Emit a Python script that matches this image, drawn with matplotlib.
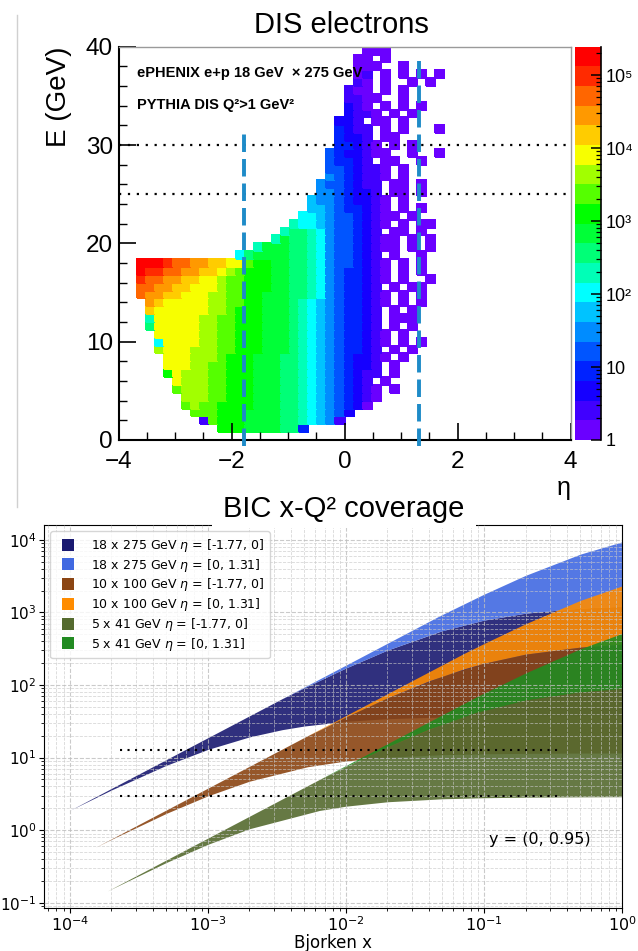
import colorsys
import numpy as np
import matplotlib
matplotlib.use("Agg")
import matplotlib.pyplot as plt
from matplotlib.colors import ListedColormap, LogNorm
from matplotlib.lines import Line2D
from matplotlib.patches import Rectangle
from matplotlib.ticker import MultipleLocator

# ======================= TOP PANEL DATA (DIS electrons) =======================
ETA_RANGE = (-4.0, 4.0)
E_RANGE = (0.0, 40.0)
N_ETA_BINS = 50
N_E_BINS = 50
LEVEL_CODES = "0123456789abcdefghij"      # colour level read from each cell
N_LEVELS = 20
LOG_COUNT_MAX = 5.39                      # top of the colour scale (log10)
# (E-bin row, first eta-bin column, colour levels of the cells; '.' = empty)
HIST_ROWS = [
    (1, 11, "bbbaaaa993"),
    (2, 9, "1cbbbaaaa9987651"),
    (3, 8, "cccbbbaaaa99876542"),
    (4, 7, "cdccbbbbaaa9987654320"),
    (5, 7, "dddccbbbaaa99876543210"),
    (6, 6, "cdddccbbbaaa99876543210.0"),
    (7, 6, "edddccbbbaaa9987654321.0"),
    (8, 5, "bedddccbbbaaa99876543211.0"),
    (9, 5, "eeeddccbbbaaa99876543221.0"),
    (10, 5, "eeedddcbbbaaa998765432210.0"),
    (11, 4, "deeedddccbbbaaa9876543321.0.0"),
    (12, 4, "7eeeeddccbbbaaa98765433210.0.0"),
    (13, 4, "eeeeeddccbbbaaa98765433210.0"),
    (14, 3, "9eeeeeddccbbbaaa9876543321.0.0"),
    (15, 3, "8eeeeeddccbbbaaa9876543321.000"),
    (16, 3, "feeeeeeddcbbbaaa9876543321.0.0"),
    (17, 3, "gfeeeeeddccbbaaa98765433210.0.0"),
    (18, 2, "hggffeeeddccbbaaa99875433210.0.0"),
    (19, 2, "hhggffeeedccbbbaa9987543321.0.00"),
    (20, 2, "ihhggffeedccbbbaa99875433210.0..0"),
    (21, 2, "jiihhggffedcbbbaa99875433210.0.0"),
    (22, 2, "jjjihhggffeecbbaa99875443210.0.0"),
    (23, 13, "79aaaa9987544321.0..0"),
    (24, 15, "8aaa998754432100.0.0"),
    (25, 17, "8a998754432100.0.0"),
    (26, 18, "89987544321.00.0"),
    (27, 19, "87765443210.0.00"),
    (28, 20, "77654432100.0"),
    (29, 21, "665433210.0.0"),
    (30, 21, "655432210.0"),
    (31, 22, "5543221.00.0"),
    (32, 22, "5443211.00.0"),
    (33, 23, "5432110.0"),
    (34, 23, "4432110.0"),
    (35, 23, "43321.00..0"),
    (36, 23, "4322100..0..0"),
    (37, 24, "33210.0.0"),
    (38, 24, "3221.00"),
    (39, 24, "3211.0.0...0"),
    (40, 24, "221.00.0"),
    (41, 25, "2110.0.0"),
    (42, 25, "210.0.0.0"),
    (43, 25, "1100..0"),
    (44, 25, "100.0.0"),
    (45, 26, "10.0..0.0"),
    (46, 26, "01.0.0.0.0"),
    (47, 26, "000..0"),
    (48, 26, "00.0"),
    (49, 27, "000"),
]
E_CUT_LINES = [25.0, 30.0]
ETA_CUT_LINES = [-1.77, 1.31]
ETA_CUT_E_TOP = [31.5, 38.6]
ETA_CUT_E_BOTTOM = -0.6
CBAR_TICKS = [1, 10, 1e2, 1e3, 1e4, 1e5]
CBAR_TICKLABELS = ["1", "10", "10²", "10³", "10⁴", "10⁵"]

# ======================= BOTTOM PANEL DATA (x-Q2 coverage) ====================
band_labels = [
    r"18 x 275 GeV $\eta$ = [-1.77, 0]",
    r"18 x 275 GeV $\eta$ = [0, 1.31]",
    r"10 x 100 GeV $\eta$ = [-1.77, 0]",
    r"10 x 100 GeV $\eta$ = [0, 1.31]",
    r"5 x 41 GeV $\eta$ = [-1.77, 0]",
    r"5 x 41 GeV $\eta$ = [0, 1.31]",
]
band_colors = ["midnightblue", "royalblue", "saddlebrown",
               "darkorange", "darkolivegreen", "forestgreen"]

x_18_back = [1.0e-4, 2e-4, 5e-4, 1e-3, 2e-3, 3.44e-3, 5e-3, 1e-2, 2e-2, 5e-2, 0.1, 0.2, 0.5, 1.0]
q2lo_18_back = [1.881, 3.583, 7.837, 12.97, 19.29, 24.23, 27.25, 31.60, 34.34, 36.22, 36.90, 37.25, 37.46, 37.53]
q2hi_18_back = [1.881, 3.762, 9.405, 18.81, 37.62, 64.7, 91.97, 171.8, 303.3, 561.3, 783.3, 976.4, 1146, 1216]

x_18_fwd = [3.44e-3, 5e-3, 1e-2, 2e-2, 4.73e-2, 0.1, 0.2, 0.5, 1.0]
q2lo_18_fwd = [64.7, 91.97, 171.8, 303.3, 543.7, 783.3, 976.4, 1146, 1216]
q2hi_18_fwd = [64.7, 94.05, 188.1, 376.2, 889.7, 1781.8, 3239, 6362, 9374]

x_10_back = [1.527e-4, 2e-4, 5e-4, 1e-3, 2e-3, 5.26e-3, 1e-2, 2e-2, 5e-2, 0.1, 0.2, 0.5, 1.0]
q2lo_10_back = [0.5802, 0.7484, 1.706, 2.975, 4.735, 7.479, 8.995, 10.13, 10.97, 11.28, 11.44, 11.54, 11.57]
q2hi_10_back = [0.5802, 0.76, 1.9, 3.8, 7.6, 19.99, 36.36, 66.67, 133.3, 200.0, 266.7, 333.3, 363.6]

x_10_fwd = [5.26e-3, 1e-2, 2e-2, 4e-2, 7.23e-2, 0.1, 0.2, 0.5, 1.0]
q2lo_10_fwd = [19.99, 36.36, 66.67, 114.3, 167.8, 200.0, 266.7, 333.3, 363.6]
q2hi_10_fwd = [19.99, 38.0, 76.0, 152.0, 274.7, 372.9, 698.3, 1466, 2315]

x_5_back = [1.862e-4, 5e-4, 1e-3, 2e-3, 6.42e-3, 1e-2, 2e-2, 5e-2, 0.1, 0.2, 0.5, 1.0]
q2lo_5_back = [0.1450, 0.3592, 0.6393, 1.048, 1.870, 2.143, 2.465, 2.709, 2.801, 2.850, 2.880, 2.890]
q2hi_5_back = [0.1450, 0.3895, 0.779, 1.558, 5.001, 7.579, 14.09, 29.08, 45.05, 62.12, 80.39, 89.13]

x_5_fwd = [6.42e-3, 1e-2, 2e-2, 4e-2, 8.81e-2, 0.2, 0.5, 1.0]
q2lo_5_fwd = [5.001, 7.579, 14.09, 24.70, 41.94, 62.12, 80.39, 89.13]
q2hi_5_fwd = [5.001, 7.79, 15.58, 31.16, 68.63, 146.5, 315.7, 513.5]

bands = [
    (x_18_back, q2lo_18_back, q2hi_18_back),
    (x_18_fwd, q2lo_18_fwd, q2hi_18_fwd),
    (x_10_back, q2lo_10_back, q2hi_10_back),
    (x_10_fwd, q2lo_10_fwd, q2hi_10_fwd),
    (x_5_back, q2lo_5_back, q2hi_5_back),
    (x_5_fwd, q2lo_5_fwd, q2hi_5_fwd),
]
Q2_DOTTED = [12.7, 3.0]
Q2_DOTTED_XRANGE = (2.3e-4, 0.36)
XLIM = (6.5e-5, 1.0)
YLIM = (0.0848, 1.6e4)

# ================================ FIGURE =====================================
W, H, DPI = 638, 951, 100
fig = plt.figure(figsize=(W / DPI, H / DPI), dpi=DPI)
TOP_FONT = ["Liberation Sans", "DejaVu Sans"]


def fx(px):
    return px / W


def fy(py):
    return 1 - py / H


# ---------- top panel ----------
ax1 = fig.add_axes([fx(118.5), fy(440), fx(452), 393.3 / H])
level_hues = [265, 255, 245, 232, 220, 207, 194, 180, 163, 148,
              133, 120, 100, 82, 62, 48, 36, 24, 10, 0]
cmap = ListedColormap([colorsys.hsv_to_rgb(h / 360.0, 1.0, 1.0) for h in level_hues])
norm = LogNorm(vmin=1.0, vmax=10 ** LOG_COUNT_MAX)

counts = np.full((N_E_BINS, N_ETA_BINS), np.nan)
for row, col0, cells in HIST_ROWS:
    for k, ch in enumerate(cells):
        if ch != ".":
            lev = LEVEL_CODES.index(ch)
            counts[row, col0 + k] = 10 ** ((lev + 0.5) * LOG_COUNT_MAX / N_LEVELS)
eta_edges = np.linspace(ETA_RANGE[0], ETA_RANGE[1], N_ETA_BINS + 1)
e_edges = np.linspace(E_RANGE[0], E_RANGE[1], N_E_BINS + 1)
mesh = ax1.pcolormesh(eta_edges, e_edges, np.ma.masked_invalid(counts),
                      cmap=cmap, norm=norm, shading="flat",
                      edgecolors="face", linewidth=0.3)

for e in E_CUT_LINES:
    ax1.axhline(e, color="black", lw=1.6, ls=(0, (1, 3)), zorder=3)
for eta, etop in zip(ETA_CUT_LINES, ETA_CUT_E_TOP):
    ln = ax1.vlines(eta, ETA_CUT_E_BOTTOM, etop, color="#1e8bc8", lw=2.8,
                    linestyles=[(0, (4.5, 1.8))], zorder=4)
    ln.set_clip_on(False)

ax1.set_xlim(*ETA_RANGE)
ax1.set_ylim(*E_RANGE)
ax1.set_xticks([-4, -2, 0, 2, 4])
ax1.set_yticks([0, 10, 20, 30, 40])
ax1.xaxis.set_minor_locator(MultipleLocator(0.5))
ax1.yaxis.set_minor_locator(MultipleLocator(2))
ax1.tick_params(which="major", direction="in", length=12, width=1.2,
                labelsize=17.5, pad=8, top=False, right=False)
ax1.tick_params(axis="y", which="major", pad=4)
ax1.tick_params(which="minor", direction="in", length=6, width=1.0,
                top=False, right=False)
for lab in ax1.get_xticklabels() + ax1.get_yticklabels():
    lab.set_family(TOP_FONT)
for s in ("left", "bottom"):
    ax1.spines[s].set_linewidth(1.5)
for s in ("top", "right"):
    ax1.spines[s].set_color("#9a9a9a")
    ax1.spines[s].set_linewidth(1.0)

ax1.text(-0.132, 1.0, "E (GeV)", rotation=90, ha="center", va="top",
         transform=ax1.transAxes, fontsize=20, family=TOP_FONT)
fig.text(fx(137), fy(73), "ePHENIX e+p 18 GeV  × 275 GeV", ha="left", va="center",
         fontsize=10.5, fontweight="bold", family=TOP_FONT)
fig.text(fx(137), fy(105), "PYTHIA DIS Q²>1 GeV²", ha="left", va="center",
         fontsize=10.5, fontweight="bold", family=TOP_FONT)
fig.text(fx(341), fy(25), "DIS electrons", ha="center", va="center",
         fontsize=21, family=TOP_FONT)
fig.text(fx(564), fy(488), "η", ha="center", va="center",
         fontsize=18, family=TOP_FONT)

cax = fig.add_axes([fx(575), fy(440), fx(26), 393.3 / H])
cbar = fig.colorbar(mesh, cax=cax)
cbar.outline.set_visible(False)
cbar.set_ticks(CBAR_TICKS)
cbar.set_ticklabels(CBAR_TICKLABELS)
cbar.minorticks_on()
cax.yaxis.set_ticks_position("right")
cax.tick_params(which="major", direction="in", length=7, width=1.1,
                labelsize=13, pad=3)
cax.tick_params(which="minor", direction="in", length=3.5, width=0.9)
for lab in cax.get_yticklabels():
    lab.set_family(TOP_FONT)
cax.plot([1, 1], [0, 1], transform=cax.transAxes, color="black", lw=1.2,
         clip_on=False)

# thin grey separator line at the far left
fig.add_artist(Line2D([fx(17), fx(17)], [fy(15), fy(507)], color="#d0d0d0",
                      lw=1.0, transform=fig.transFigure))

# ---------- bottom panel ----------
ax2 = fig.add_axes([fx(44), fy(908), fx(578), 383 / H])
ax2.set_xscale("log")
ax2.set_yscale("log")
for (xs, lo, hi), col in zip(bands, band_colors):
    ax2.fill_between(xs, lo, hi, color=col, alpha=0.9, lw=0, zorder=1)
ax2.hlines(Q2_DOTTED, Q2_DOTTED_XRANGE[0], Q2_DOTTED_XRANGE[1], colors="black",
           lw=1.5, linestyles=[(0, (1, 2.6))], zorder=3)
ax2.set_xlim(*XLIM)
ax2.set_ylim(*YLIM)
ax2.set_axisbelow(False)
ax2.grid(True, which="major", ls="--", color="#bdbdbd", lw=0.8, alpha=0.8, zorder=2)
ax2.grid(True, which="minor", ls="--", color="#c8c8c8", lw=0.6, alpha=0.7, zorder=2)
ax2.tick_params(axis="x", which="major", labelsize=11.5, pad=2)
ax2.tick_params(axis="y", which="major", labelsize=11, pad=2)
ax2.set_xlabel("Bjorken x", fontsize=12, va="top")
ax2.xaxis.set_label_coords(0.5, -0.068)
ax2.text(0.858, 0.178, "y = (0, 0.95)", transform=ax2.transAxes, ha="center",
         va="center", fontsize=11.5)
handles = [Line2D([], [], ls="", marker="s", markersize=8.6, color=c,
                  markeredgewidth=0) for c in band_colors]
ax2.legend(handles, band_labels, loc="upper left", fontsize=9,
           handletextpad=0.8, labelspacing=0.22, borderpad=0.45)

# title of the lower panel over a white patch that hides the frame
fig.add_artist(Rectangle((fx(212), fy(528)), fx(264), 38 / H, facecolor="white",
                         edgecolor="none", transform=fig.transFigure, zorder=10))
fig.text(fx(344), fy(509), "BIC x-Q² coverage", ha="center", va="center",
         fontsize=21, family=TOP_FONT, zorder=11)

fig.savefig("out.png", dpi=DPI)
